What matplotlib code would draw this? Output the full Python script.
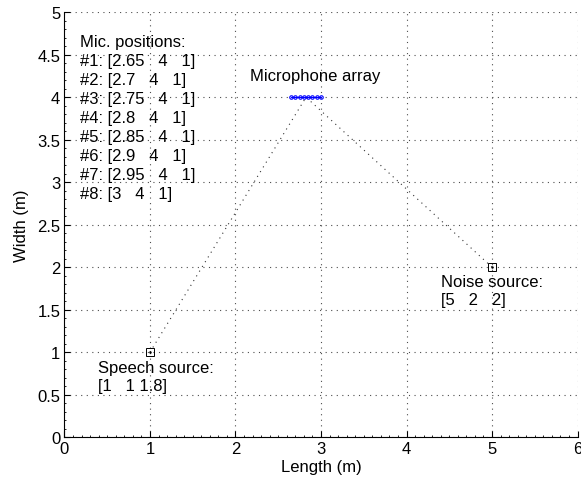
import matplotlib
matplotlib.use("Agg")
import matplotlib.pyplot as plt
from matplotlib.ticker import MultipleLocator, FormatStrFormatter

plt.rcParams['font.family'] = ['Liberation Sans', 'DejaVu Sans']

# room geometry (m)
mic_x = [2.65, 2.7, 2.75, 2.8, 2.85, 2.9, 2.95, 3]
mic_y = [4, 4, 4, 4, 4, 4, 4, 4]
mic_z = [1, 1, 1, 1, 1, 1, 1, 1]
speech_pos = [1, 1, 1.8]
noise_pos = [5, 2, 2]
array_center = [2.825, 4]


def fmt(v):
    return ('%g' % v)


fig = plt.figure(figsize=(5.81, 4.89), dpi=100)
ax = fig.add_axes([0.111, 0.104, 0.883, 0.869])

dots = (0, (1, 4))
# dotted lines from sources to array centre
for src in (speech_pos, noise_pos):
    ax.plot([src[0], array_center[0]], [src[1], array_center[1]],
            linestyle=dots, color='0.2', lw=0.8)

ax.plot(mic_x, mic_y, 'o-', color='b', ms=2.5, mfc='none', mew=0.8, lw=0.8)

for src in (speech_pos, noise_pos):
    ax.plot(src[0], src[1], 's', ms=6, mfc='none', mec='k', mew=0.7)
    ax.plot(src[0], src[1], '.', color='k', ms=1.5)

fs = 12
lines = ['Mic. positions:'] + [
    '#%d: [%s   %s   %s]' % (i + 1, fmt(x), fmt(y), fmt(z))
    for i, (x, y, z) in enumerate(zip(mic_x, mic_y, mic_z))]
for i, s in enumerate(lines):
    ax.text(0.18, 4.65 - 0.2235 * i, s, fontsize=fs, va='center', ha='left')

ax.text(2.17, 4.26, 'Microphone array', fontsize=fs, va='center')
ax.text(0.39, 0.82, 'Speech source:', fontsize=fs, va='center')
ax.text(0.39, 0.61, '[%s   %s %s]' % tuple(fmt(v) for v in speech_pos),
        fontsize=fs, va='center')
ax.text(4.40, 1.83, 'Noise source:', fontsize=fs, va='center')
ax.text(4.40, 1.62, '[%s   %s   %s]' % tuple(fmt(v) for v in noise_pos),
        fontsize=fs, va='center')

ax.set_xlim(0, 6)
ax.set_ylim(0, 5)
ax.xaxis.set_major_locator(MultipleLocator(1))
ax.yaxis.set_major_locator(MultipleLocator(0.5))
ax.xaxis.set_major_formatter(FormatStrFormatter('%g'))
ax.yaxis.set_major_formatter(FormatStrFormatter('%g'))
ax.xaxis.set_minor_locator(MultipleLocator(0.1))
ax.yaxis.set_minor_locator(MultipleLocator(0.1))
ax.tick_params(which='both', direction='in', labelsize=fs)
ax.tick_params(which='major', length=4, pad=3)
ax.tick_params(which='minor', length=1.5)
ax.grid(True, linestyle=dots, color='0.3', lw=0.8)
ax.spines['top'].set_visible(False)
ax.spines['right'].set_visible(False)
ax.set_xlabel('Length (m)', fontsize=fs, labelpad=2)
ax.set_ylabel('Width (m)', fontsize=fs, labelpad=6)

fig.savefig('out.png', dpi=100)
